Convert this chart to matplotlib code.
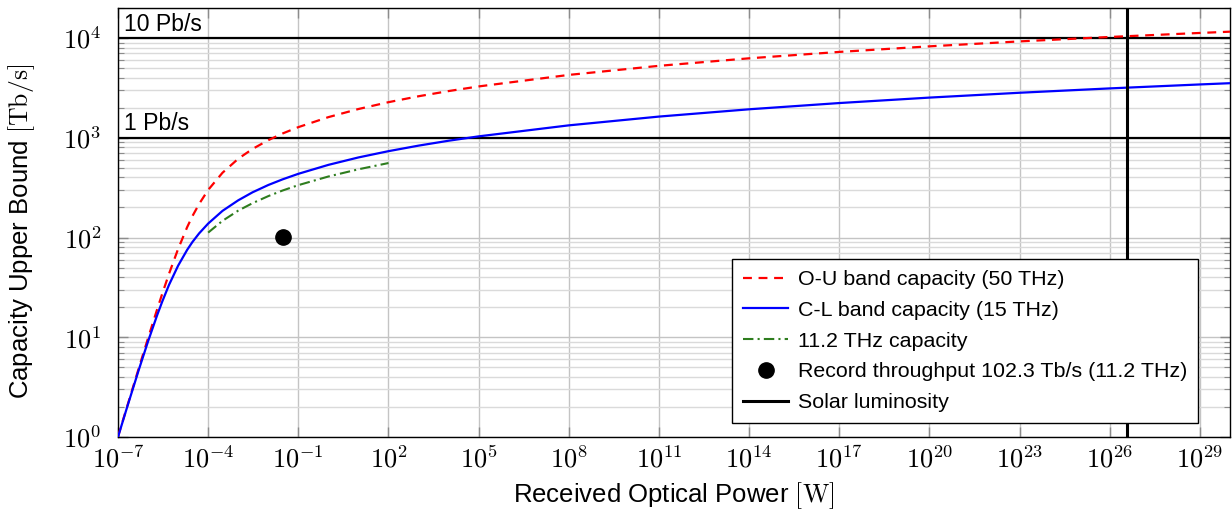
import numpy as np
import matplotlib
matplotlib.use("Agg")
import matplotlib.pyplot as plt
from matplotlib.ticker import FixedLocator, FuncFormatter, LogLocator, NullLocator, NullFormatter

plt.rcParams['font.family'] = ['Liberation Sans', 'DejaVu Sans']
plt.rcParams['mathtext.fontset'] = 'cm'

# ---- data ----
power_w = [1e-7, 2e-7, 5e-7, 1e-6, 2e-6, 3e-6, 5e-6, 1e-5, 2e-5, 3e-5, 5e-5,
           1e-4, 3e-4, 1e-3, 3e-3, 1e-2, 3e-2, 1e-1, 1e0, 1e1, 1e2, 1e3, 1e4,
           1e5, 1e8, 1e11, 1e14, 1e17, 1e20, 1e23, 1e26, 1e29, 1e30]
ou_tbps = [1.01, 2.01, 4.98, 9.8, 19.0, 27.6, 43.4, 76.8, 127, 164, 217,
           300, 446, 616, 773, 946, 1104, 1278, 1610, 1942, 2274, 2607, 2939,
           3271, 4268, 5264, 6261, 7257, 8254, 9250, 10247, 11243, 11576]
cl_tbps = [1.00, 1.98, 4.79, 9.1, 16.6, 23.0, 33.6, 52.2, 75.2, 90.2, 110,
           138, 185, 236, 284, 336, 383, 435, 535, 635, 734, 834, 934,
           1033, 1332, 1631, 1930, 2229, 2528, 2827, 3126, 3425, 3525]
g_power_w = [1e-4, 3e-4, 1e-3, 3e-3, 1e-2, 3e-2, 1e-1, 1e0, 1e1, 1e2]
g_tbps = [112, 147, 186, 221, 260, 296, 335, 409, 483, 558]
record_power_w = [0.032]
record_tbps = [102.3]
solar_luminosity_w = 3.828e26
pb_levels = [1e3, 1e4]
pb_labels = ['1 Pb/s', '10 Pb/s']
x_tick_exps = list(range(-7, 30, 3))
y_tick_exps = [0, 1, 2, 3, 4]

fig = plt.figure(figsize=(12.32, 5.13), dpi=100)
ax = fig.add_axes([118/1232, 1-437/513, (1230-118)/1232, (437-8)/513])
ax.set_xscale('log')
ax.set_yscale('log')
ax.set_xlim(1e-7, 1e30)
ax.set_ylim(1, 2e4)

# grid
ax.xaxis.set_major_locator(FixedLocator([10.0**e for e in x_tick_exps]))
ax.xaxis.set_minor_locator(NullLocator())
ax.yaxis.set_major_locator(FixedLocator([10.0**e for e in y_tick_exps]))
ax.yaxis.set_minor_locator(LogLocator(base=10, subs=np.arange(2, 10)))
ax.yaxis.set_minor_formatter(NullFormatter())
fmt = FuncFormatter(lambda v, p: r'$10^{%d}$' % int(round(np.log10(v))))
ax.xaxis.set_major_formatter(fmt)
ax.yaxis.set_major_formatter(fmt)
ax.grid(True, which='major', color='#c4c4c4', lw=1.0, zorder=0)
ax.grid(True, which='minor', axis='y', color='#dadada', lw=1.0, zorder=0)
ax.set_axisbelow(True)

ax.tick_params(which='both', direction='in', top=True, right=True, color='#8c8c8c')
ax.tick_params(which='major', length=7.5, width=1.0, labelsize=19)
ax.tick_params(which='minor', length=4.5, width=0.8)
ax.tick_params(axis='y', which='major', pad=12)
ax.tick_params(axis='x', which='major', pad=6)
for s in ax.spines.values():
    s.set_linewidth(1.0)
    s.set_color('black')

# reference lines
for lvl, lab in zip(pb_levels, pb_labels):
    ax.axhline(lvl, color='black', lw=1.6, zorder=3)
    ax.text(1.6e-7, lvl * 1.06, lab, fontsize=16.6, ha='left', va='bottom', zorder=4)

ax.plot(power_w, ou_tbps, color='red', ls=(0, (4, 3)), lw=1.6,
        label='O-U band capacity (50 THz)', zorder=4)
ax.plot(power_w, cl_tbps, color='blue', lw=1.6,
        label='C-L band capacity (15 THz)', zorder=4)
ax.plot(g_power_w, g_tbps, color='#2e7d1e', ls=(0, (5, 2, 1, 2)), lw=1.5,
        label='11.2 THz capacity', zorder=4)
ax.plot(record_power_w, record_tbps, 'o', color='black', ms=11, ls='none',
        label='Record throughput 102.3 Tb/s (11.2 THz)', zorder=5)
ax.axvline(solar_luminosity_w, color='black', lw=2.2, label='Solar luminosity', zorder=4)

leg = ax.legend(loc='lower right', bbox_to_anchor=(0.971, 0.033), fontsize=15.4,
                frameon=True, fancybox=False, edgecolor='black', framealpha=1,
                handlelength=2.1, handletextpad=0.45, labelspacing=0.55,
                borderpad=0.5, borderaxespad=0)
leg.get_frame().set_linewidth(1.0)
leg.set_zorder(10)

ax.set_xlabel(r'Received Optical Power $[\mathrm{W}]$', fontsize=18.5, labelpad=6)
ax.set_ylabel(r'Capacity Upper Bound $[\mathrm{Tb/s}]$', fontsize=18.5)
ax.yaxis.set_label_coords(-0.073, 0.48)

fig.savefig('out.png', dpi=100)
